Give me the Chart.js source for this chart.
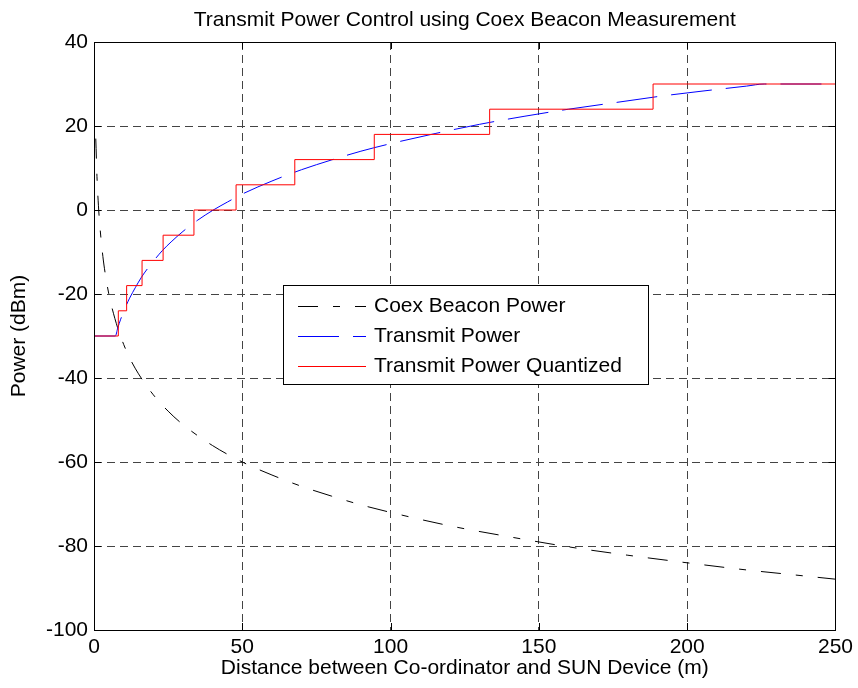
<!DOCTYPE html>
<html>
<head>
<meta charset="utf-8">
<title>Transmit Power Control</title>
<script src="https://cdn.jsdelivr.net/npm/chart.js@4/dist/chart.umd.min.js"></script>
<style>
  html, body { margin: 0; padding: 0; background: #fff; }
  #plot { display: block; }
</style>
</head>
<body>
<canvas id="plot" width="858" height="688"></canvas>
<script>
/* values */
const TITLE = 'Transmit Power Control using Coex Beacon Measurement';
const X_TITLE = 'Distance between Co-ordinator and SUN Device (m)';
const Y_TITLE = 'Power (dBm)';

const seriesNames = ['Coex Beacon Power', 'Transmit Power', 'Transmit Power Quantized'];

// Coex beacon power (black dashed)
const beaconDist  = [0.6, 1, 1.5, 2, 3, 4, 5, 6, 8, 10, 12, 15, 20, 25, 30, 40, 50, 60, 70, 80, 90, 100, 120, 140, 160, 180, 200, 220, 235, 250];
const beaconPower = [17, 8, 1, -4, -11.1, -16.1, -20, -23.1, -28.1, -32, -35.2, -39, -44, -47.9, -51.1, -56.1, -60, -63.1, -65.8, -68.1, -70.2, -72, -75.2, -77.8, -80.2, -82.2, -84, -85.7, -86.8, -87.9];

// transmit power (blue dashed)
const txDist  = [0, 7.2, 8, 9, 10, 11, 12, 14, 16, 18, 20, 23, 26, 30, 35, 40, 45, 50, 60, 70, 80, 90, 100, 115, 130, 145, 160, 175, 190, 205, 220, 226, 250];
const txPower = [-30, -30, -28.1, -26, -24.2, -22.5, -21, -18.4, -16, -14, -12.2, -9.7, -7.6, -5.1, -2.4, -0.1, 1.9, 3.8, 6.9, 9.6, 11.9, 14, 15.8, 18.2, 20.4, 22.3, 24, 25.5, 27, 28.3, 29.5, 30, 30];

// quantized transmit power (red steps): level starts at given distance
const quantDist  = [0, 8.2, 11.0, 16.2, 23.3, 33.7, 47.9, 67.7, 94.5, 133.4, 188.5, 250];
const quantPower = [-30, -24, -18, -12, -6, 0, 6, 12, 18, 24, 30, 30];

const xTicks = [0, 50, 100, 150, 200, 250];
const yTicks = [-100, -80, -60, -40, -20, 0, 20, 40];

const FONT = { family: '"Liberation Sans", Arial, Helvetica, sans-serif', size: 21 };
const FONT_CSS = '21px "Liberation Sans", Arial, Helvetica, sans-serif';

function pts(xs, ys) { return xs.map((x, i) => ({ x, y: ys[i] })); }

// box, inward ticks, title and the in-plot legend
const matlabFrame = {
  id: 'matlabFrame',
  afterDraw(chart) {
    const { ctx, chartArea: a, scales } = chart;
    const X = scales.x, Y = scales.y;
    ctx.save();
    ctx.setLineDash([]);
    ctx.strokeStyle = '#000';
    ctx.lineWidth = 1;
    ctx.strokeRect(Math.round(a.left) + 0.5, Math.round(a.top) + 0.5,
      Math.round(a.right - a.left), Math.round(a.bottom - a.top));

    const tl = 7;
    ctx.beginPath();
    xTicks.forEach(v => {
      const px = Math.round(X.getPixelForValue(v)) + 0.5;
      ctx.moveTo(px, a.bottom); ctx.lineTo(px, a.bottom - tl);
      ctx.moveTo(px, a.top); ctx.lineTo(px, a.top + tl);
    });
    yTicks.forEach(v => {
      const py = Math.round(Y.getPixelForValue(v)) + 0.5;
      ctx.moveTo(a.left, py); ctx.lineTo(a.left + tl, py);
      ctx.moveTo(a.right, py); ctx.lineTo(a.right - tl, py);
    });
    ctx.stroke();

    // title
    ctx.fillStyle = '#000';
    ctx.font = FONT_CSS;
    ctx.textAlign = 'center';
    ctx.textBaseline = 'middle';
    ctx.fillText(TITLE, (a.left + a.right) / 2, 20);

    // legend
    const lx = a.left + 189, ly = a.top + 243, lw = 365, lh = 99;
    ctx.fillStyle = '#fff';
    ctx.fillRect(lx, ly, lw, lh);
    ctx.strokeStyle = '#000';
    ctx.strokeRect(lx + 0.5, ly + 0.5, lw, lh);
    ctx.textAlign = 'left';
    chart.data.datasets.forEach((ds, i) => {
      const ry = ly + 21 + i * 30;
      ctx.beginPath();
      ctx.setLineDash(ds.borderDash || []);
      ctx.strokeStyle = ds.borderColor;
      ctx.lineWidth = 1;
      ctx.moveTo(lx + 15, Math.round(ry) + 0.5);
      ctx.lineTo(lx + 83, Math.round(ry) + 0.5);
      ctx.stroke();
      ctx.setLineDash([]);
      ctx.fillStyle = '#000';
      ctx.fillText(ds.label, lx + 91, ry);
    });
    ctx.restore();
  }
};

const chart = new Chart(document.getElementById('plot'), {
  type: 'line',
  data: {
    datasets: [
      {
        label: seriesNames[0], data: pts(beaconDist, beaconPower),
        borderColor: '#000', borderWidth: 1, borderDash: [20, 15, 7, 15],
        pointRadius: 0, cubicInterpolationMode: 'monotone', order: 2
      },
      {
        label: seriesNames[1], data: pts(txDist, txPower),
        borderColor: '#0000ff', borderWidth: 1, borderDash: [41, 14],
        pointRadius: 0, cubicInterpolationMode: 'monotone', order: 1
      },
      {
        label: seriesNames[2], data: pts(quantDist, quantPower),
        borderColor: '#ff0000', borderWidth: 1, stepped: true,
        pointRadius: 0, order: 0
      }
    ]
  },
  options: {
    responsive: false,
    animation: false,
    events: [],
    layout: { padding: { top: 42, right: 20, left: 0, bottom: 0 } },
    plugins: { legend: { display: false }, title: { display: false }, tooltip: { enabled: false } },
    scales: {
      x: {
        type: 'linear', min: 0, max: 250,
        afterBuildTicks(s) { s.ticks = xTicks.map(v => ({ value: v })); },
        ticks: { color: '#000', font: FONT, padding: 5, maxRotation: 0, autoSkip: false },
        grid: { color: '#444', lineWidth: 1, drawTicks: false },
        border: { display: false, dash: [8, 5] },
        title: { display: true, text: X_TITLE, color: '#000', font: FONT, padding: { top: 0, bottom: 7 } },
        afterFit(s) { s.height = 58; }
      },
      y: {
        type: 'linear', min: -100, max: 40,
        afterBuildTicks(s) { s.ticks = yTicks.map(v => ({ value: v })); },
        ticks: { color: '#000', font: FONT, padding: 6, autoSkip: false },
        grid: { color: '#444', lineWidth: 1, drawTicks: false },
        border: { display: false, dash: [8, 5] },
        title: { display: true, text: Y_TITLE, color: '#000', font: FONT, padding: { top: 7, bottom: 0 } },
        afterFit(s) { s.width = 94; }
      }
    }
  },
  plugins: [matlabFrame]
});
</script>
</body>
</html>
